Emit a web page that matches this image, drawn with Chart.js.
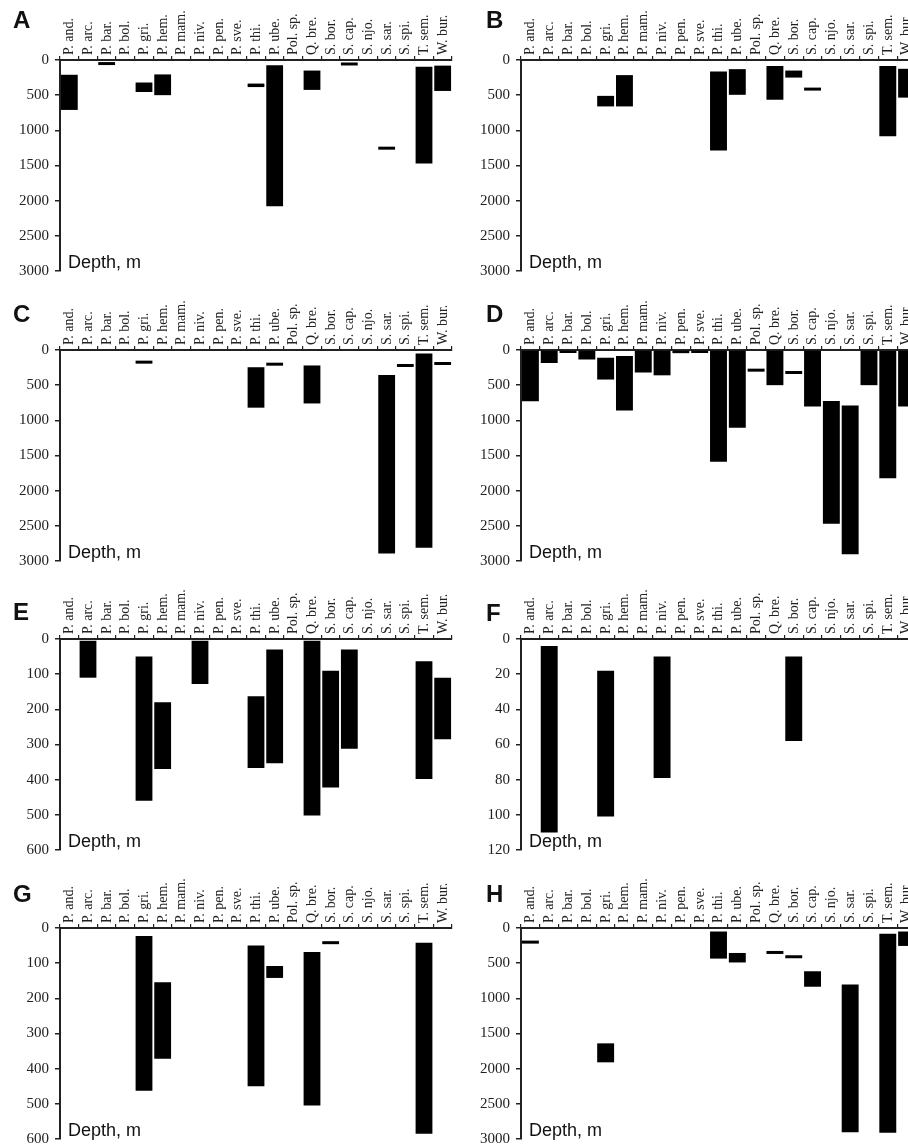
<!DOCTYPE html>
<html>
<head>
<meta charset="utf-8">
<script src="https://cdn.jsdelivr.net/npm/chart.js@4.4.1/dist/chart.umd.min.js"></script>
<style>
  html, body { margin: 0; padding: 0; background: #fff; }
  body { position: relative; width: 908px; height: 1146px; overflow: hidden; }
  canvas { position: absolute; }
</style>
</head>
<body>
<canvas id="panelA"></canvas>
<canvas id="panelB"></canvas>
<canvas id="panelC"></canvas>
<canvas id="panelD"></canvas>
<canvas id="panelE"></canvas>
<canvas id="panelF"></canvas>
<canvas id="panelG"></canvas>
<canvas id="panelH"></canvas>
<script>
// Species along the top axis
const species = ['P. and.', 'P. arc.', 'P. bar.', 'P. bol.', 'P. gri.', 'P. hem.', 'P. mam.',
  'P. niv.', 'P. pen.', 'P. sve.', 'P. thi.', 'P. ube.', 'Pol. sp.', 'Q. bre.', 'S. bor.',
  'S. cap.', 'S. njo.', 'S. sar.', 'S. spi.', 'T. sem.', 'W. bur.'];

// Depth ranges in m, [shallowest, deepest]; a single record is [d, d]; null = not found
const depthA = [[210, 710], null, [72, 72], null, [320, 455], [205, 500], null, null, null, null,
  [335, 385], [75, 2080], null, [150, 425], null, [78, 78], null, [1275, 1275], null, [95, 1470], [80, 440]];
const depthB = [null, null, null, null, [510, 660], [215, 660], null, null, null, null,
  [165, 1285], [130, 495], null, [85, 565], [150, 250], [435, 435], null, null, null, [85, 1085], [125, 535]];
const depthC = [null, null, null, null, [194, 194], null, null, null, null, null,
  [245, 820], [223, 223], null, [220, 760], null, null, null, [355, 2895], [242, 242], [50, 2810], [213, 213]];
const depthD = [[0, 730], [0, 185], [0, 40], [0, 135], [110, 420], [85, 860], [0, 320], [0, 360], [0, 45], [0, 30],
  [0, 1590], [0, 1105], [308, 308], [0, 500], [341, 341], [0, 805], [725, 2470], [790, 2905], [0, 500], [15, 1825], [0, 805]];
const depthE = [null, [5, 110], null, null, [50, 460], [180, 370], null, [5, 128], null, null,
  [163, 367], [30, 353], null, [5, 502], [90, 422], [30, 312], null, null, null, [63, 398], [110, 285]];
const depthF = [null, [4, 110], null, null, [18, 101], null, null, [10, 79], null, null,
  null, null, null, null, [10, 58], null, null, null, null, null, null];
const depthG = [null, null, null, null, [23, 463], [154, 372], null, null, null, null,
  [50, 450], [108, 142], null, [68, 505], [46, 46], null, null, null, null, [42, 585], null];
const depthH = [[222, 222], null, null, null, [1640, 1910], null, null, null, null, null,
  [50, 435], [355, 490], null, [369, 369], [430, 430], [615, 835], null, [805, 2905], null, [80, 2910], [50, 255]];

// Depth axis maximum and tick step for each panel
const axisMax = { A: 3000, B: 3000, C: 3000, D: 3000, E: 600, F: 120, G: 600, H: 3000 };
const axisStep = { A: 500, B: 500, C: 500, D: 500, E: 100, F: 20, G: 100, H: 500 };

Chart.defaults.font.family = '"Liberation Serif", "Times New Roman", serif';
Chart.defaults.color = '#222';

// where each panel sits on the page
const panels = [
  { id: 'panelA', letter: 'A', data: depthA, left: 0,   top: 0,   letterY: 28 },
  { id: 'panelB', letter: 'B', data: depthB, left: 454, top: 0,   letterY: 28 },
  { id: 'panelC', letter: 'C', data: depthC, left: 0,   top: 290, letterY: 32 },
  { id: 'panelD', letter: 'D', data: depthD, left: 454, top: 290, letterY: 32 },
  { id: 'panelE', letter: 'E', data: depthE, left: 0,   top: 579, letterY: 41 },
  { id: 'panelF', letter: 'F', data: depthF, left: 454, top: 579, letterY: 42 },
  { id: 'panelG', letter: 'G', data: depthG, left: 0,   top: 868, letterY: 34 },
  { id: 'panelH', letter: 'H', data: depthH, left: 454, top: 868, letterY: 34 }
];

function makePanel(p) {
  const isRight = p.left > 0;
  const canvas = document.getElementById(p.id);
  const width = isRight ? 462 : 454;
  const height = 289;
  const axisWidth = isRight ? 67 : 60;
  const plotWidth = isRight ? 395 : 392;
  canvas.width = width;
  canvas.height = height;
  canvas.style.left = p.left + 'px';
  canvas.style.top = p.top + 'px';
  canvas.style.width = width + 'px';
  canvas.style.height = height + 'px';

  // panel letter and the "Depth, m" caption
  const panelText = {
    id: 'panelText',
    afterDraw(chart) {
      const ctx = chart.ctx;
      const area = chart.chartArea;
      ctx.save();
      ctx.fillStyle = '#111';
      ctx.textBaseline = 'alphabetic';
      ctx.textAlign = 'left';
      ctx.font = 'bold 24px "Liberation Sans", Arial, sans-serif';
      ctx.fillText(p.letter, isRight ? 32 : 13, p.letterY);
      ctx.font = '18px "Liberation Sans", Arial, sans-serif';
      ctx.fillText('Depth, m', area.left + 8, area.bottom - 3);
      ctx.restore();
    }
  };

  const key = p.letter;
  return new Chart(canvas, {
    type: 'bar',
    data: {
      labels: species,
      datasets: [{
        data: p.data,
        backgroundColor: '#000',
        borderWidth: 0,
        barPercentage: 0.9,
        categoryPercentage: 1,
        minBarLength: 3
      }]
    },
    options: {
      responsive: false,
      maintainAspectRatio: false,
      devicePixelRatio: 1,
      animation: false,
      layout: { padding: { left: 0, top: 0, right: width - axisWidth - plotWidth, bottom: height - 60 - 211 } },
      plugins: { legend: { display: false }, tooltip: { enabled: false } },
      scales: {
        x: {
          position: 'top',
          afterFit(scale) { scale.height = 60; },
          grid: { drawOnChartArea: false, tickLength: 4, color: '#222', lineWidth: 1.2 },
          border: { color: '#222', width: 2 },
          // rotated labels on a top axis are pushed left by one line height, so push them back
          ticks: { autoSkip: false, minRotation: 90, maxRotation: 90, padding: 1, labelOffset: 17, font: { size: 14 } }
        },
        y: {
          reverse: true,
          min: 0,
          max: axisMax[key],
          afterFit(scale) { scale.width = axisWidth; },
          grid: { drawOnChartArea: false, tickLength: 5, color: '#222', lineWidth: 1.5 },
          border: { color: '#222', width: 2 },
          ticks: {
            stepSize: axisStep[key],
            padding: 6,
            font: { size: 15 },
            callback: value => String(value)
          }
        }
      }
    },
    plugins: [panelText]
  });
}

panels.forEach(makePanel);
</script>
</body>
</html>
